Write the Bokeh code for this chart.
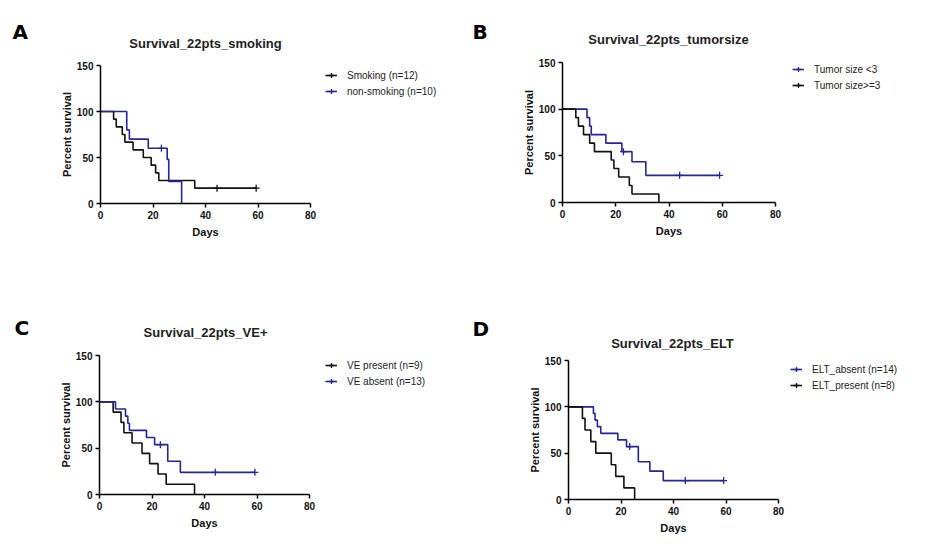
from bokeh.plotting import figure
from bokeh.models import Range1d, FixedTicker, Legend, LegendItem, Label
from bokeh.layouts import column, row
from bokeh.embed import file_html
from bokeh.resources import INLINE

BLACK = "#111111"
BLUE = "#25259c"
FONT = "Liberation Sans"

# ---------------- data (days, percent survival) ----------------
# Panel A
A_smoke_t = [0, 5, 6, 8.3, 9.3, 12.4, 16.3, 19.3, 21, 22.2, 35.9, 59.3]
A_smoke_s = [100, 91.7, 83.3, 75, 66.7, 58.3, 50, 41.7, 33.3, 25, 16.7, 16.7]
A_smoke_ct = [44.4, 59.3]
A_smoke_cs = [16.7, 16.7]
A_non_t = [0, 10, 11, 18.2, 25.4, 26, 30.9]
A_non_s = [100, 80, 70, 60, 48, 24, 0]
A_non_ct = [23.2]
A_non_cs = [60]

# Panel B
B_small_t = [0, 9.2, 10.2, 10.8, 16.3, 22.3, 26.1, 31.3, 59]
B_small_s = [100, 90.9, 81.8, 72.7, 63.6, 54.5, 43.6, 29.1, 29.1]
B_small_ct = [22.9, 44, 59]
B_small_cs = [54.5, 29.1, 29.1]
B_large_t = [0, 5, 6, 7.9, 10.2, 12, 18.3, 19.3, 21.1, 25.1, 26.1, 36.2]
B_large_s = [100, 90.9, 81.8, 72.7, 63.6, 54.5, 45.5, 36.4, 27.3, 18.2, 9.1, 0]
B_large_ct = []
B_large_cs = []

# Panel C
C_pres_t = [0, 5.2, 8.2, 9.3, 12.4, 16.2, 19.1, 22.3, 25.4, 36.2]
C_pres_s = [100, 88.9, 77.8, 66.7, 55.6, 44.4, 33.3, 22.2, 11.1, 0]
C_pres_ct = []
C_pres_cs = []
C_abs_t = [0, 6.1, 9.9, 10.8, 11.4, 17.9, 21, 26, 30.8, 59.2]
C_abs_s = [100, 92.3, 84.6, 76.9, 69.2, 61.5, 53.8, 35.9, 23.9, 23.9]
C_abs_ct = [23.2, 44.1, 59.2]
C_abs_cs = [53.8, 23.9, 23.9]

# Panel D
D_abs_t = [0, 9.5, 10.1, 11, 12.3, 18.8, 22.1, 26.6, 31, 36.1, 59.1]
D_abs_s = [100, 92.9, 85.7, 78.6, 71.4, 64.3, 57.1, 40.8, 30.6, 20.4, 20.4]
D_abs_ct = [23.3, 44.5, 59.1]
D_abs_cs = [57.1, 20.4, 20.4]
D_pres_t = [0, 5.3, 6.3, 8.5, 10.4, 16.3, 18, 21.1, 25.2]
D_pres_s = [100, 87.5, 75, 62.5, 50, 37.5, 25, 12.5, 0]
D_pres_ct = []
D_pres_cs = []

x_ticks = [0, 20, 40, 60, 80]
y_ticks = [0, 50, 100, 150]
X_MIN, X_MAX = 0, 80
Y_MIN, Y_MAX = 0, 150


def make_panel(letter, title, series, w, h, box, letter_xy, title_xy, legend_xy):
    # box = pixel box (left, top, right, bottom) of the data area in the canvas
    l, t, r, b = box
    kx = (X_MAX - X_MIN) / (r - l)
    ky = (Y_MAX - Y_MIN) / (b - t)
    xr = Range1d(X_MIN - l * kx, X_MIN + (w - l) * kx)
    yr = Range1d(Y_MIN - (h - b) * ky, Y_MIN + b * ky)

    p = figure(width=w, height=h, x_range=xr, y_range=yr, title=None,
               min_border=0, min_border_left=0, min_border_right=0,
               min_border_top=0, min_border_bottom=0,
               output_backend="svg", toolbar_location=None)
    p.outline_line_color = None
    p.xgrid.visible = False
    p.ygrid.visible = False
    p.background_fill_color = "white"
    p.border_fill_color = "white"

    for ax, ticks, bnds in ((p.xaxis, x_ticks, (X_MIN, X_MAX)),
                            (p.yaxis, y_ticks, (Y_MIN, Y_MAX))):
        ax.ticker = FixedTicker(ticks=ticks)
        ax.bounds = bnds
        ax.fixed_location = 0
        ax.axis_line_color = "black"
        ax.axis_line_width = 1.5
        ax.major_tick_line_color = "black"
        ax.major_tick_line_width = 1.5
        ax.major_tick_out = 4
        ax.major_tick_in = 0
        ax.minor_tick_line_color = None
        ax.major_label_text_font = FONT
        ax.major_label_text_font_size = "10px"
        ax.major_label_text_font_style = "bold"
        ax.major_label_text_color = "#111111"
        ax.major_label_standoff = 3
        ax.axis_label_text_font = FONT
        ax.axis_label_text_font_size = "11px"
        ax.axis_label_text_font_style = "bold"
        ax.axis_label_text_color = "#111111"
    p.xaxis.axis_label = "Days"
    p.yaxis.axis_label = "Percent survival"
    p.xaxis.axis_label_standoff = 4
    p.yaxis.axis_label_standoff = 1

    items = []
    for name, color, tt, ss, ct, cs in series:
        lr = p.step(tt, ss, mode="after", line_color=color, line_width=1.6)
        renderers = [lr]
        if ct:
            cr = p.scatter(ct, cs, marker="cross", size=7,
                           line_color=color, line_width=1.3)
        else:
            # legend-only symbol (nothing drawn in the plot area)
            cr = p.scatter([float("nan")], [float("nan")], marker="cross", size=7,
                           line_color=color, line_width=1.3)
        renderers.append(cr)
        items.append(LegendItem(label=name, renderers=renderers))

    leg = Legend(items=items, location=legend_xy,
                 border_line_color=None, background_fill_alpha=0,
                 padding=0, margin=0, spacing=2,
                 label_height=14, glyph_height=14, glyph_width=12,
                 label_standoff=10,
                 label_text_font=FONT, label_text_font_size="10px",
                 label_text_color="#222222")
    p.add_layout(leg, "center")

    p.add_layout(Label(x=title_xy[0], y=title_xy[1], x_units="screen",
                       y_units="screen", text=title, text_font=FONT,
                       text_font_size="13px", text_font_style="bold",
                       text_color="#222222", text_align="center",
                       text_baseline="middle"))
    p.add_layout(Label(x=letter_xy[0], y=letter_xy[1], x_units="screen",
                       y_units="screen", text=letter, text_font="DejaVu Sans",
                       text_font_size="20px", text_font_style="bold",
                       text_color="black", text_align="left",
                       text_baseline="middle"))
    return p


# top row: height 290; bottom row: height 260 (canvas px, y from bottom for labels)
pA = make_panel("A", "Survival_22pts_smoking",
                [("Smoking (n=12)", BLACK, A_smoke_t, A_smoke_s, A_smoke_ct, A_smoke_cs),
                 ("non-smoking (n=10)", BLUE, A_non_t, A_non_s, A_non_ct, A_non_cs)],
                463, 290, (100, 65, 310, 203),
                (12, 290 - 31), (205, 290 - 43), (325, 290 - 98))
pB = make_panel("B", "Survival_22pts_tumorsize",
                [("Tumor size <3", BLUE, B_small_t, B_small_s, B_small_ct, B_small_cs),
                 ("Tumor size>=3", BLACK, B_large_t, B_large_s, B_large_ct, B_large_cs)],
                467, 290, (99, 62, 312, 202),
                (9, 290 - 31), (205, 290 - 39), (329, 290 - 92))
pC = make_panel("C", "Survival_22pts_VE+",
                [("VE present (n=9)", BLACK, C_pres_t, C_pres_s, C_pres_ct, C_pres_cs),
                 ("VE absent (n=13)", BLUE, C_abs_t, C_abs_s, C_abs_ct, C_abs_cs)],
                463, 260, (99, 65, 309, 204),
                (14, 260 - 37), (205, 260 - 42), (325, 260 - 98))
pD = make_panel("D", "Survival_22pts_ELT",
                [("ELT_absent (n=14)", BLUE, D_abs_t, D_abs_s, D_abs_ct, D_abs_cs),
                 ("ELT_present (n=8)", BLACK, D_pres_t, D_pres_s, D_pres_ct, D_pres_cs)],
                467, 260, (105, 70, 315, 209),
                (9, 260 - 38), (209, 260 - 53), (327, 260 - 102))

layout = column(row(pA, pB), row(pC, pD))

with open("out.html", "w") as f:
    f.write(file_html(layout, INLINE))
